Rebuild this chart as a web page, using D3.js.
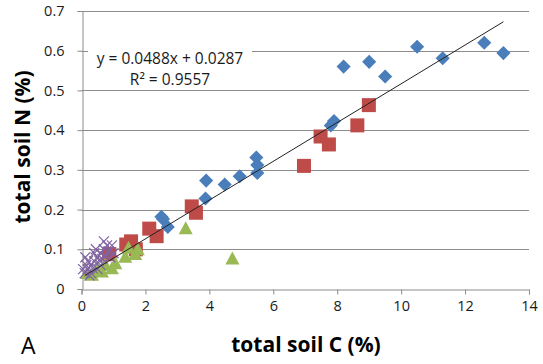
<!DOCTYPE html>
<html>
<head>
<meta charset="utf-8">
<script src="https://cdn.jsdelivr.net/npm/d3@7"></script>
<style>
  body { margin: 0; background: #fff; }
  text { font-family: "Open Sans", "Liberation Sans", sans-serif; }
</style>
</head>
<body>
<div id="app"></div>
<script>
// series data (total soil C %, total soil N %)
const blueC = [10.5, 12.6, 13.2, 11.3, 9.0, 8.2, 9.5, 7.8, 7.9, 5.47, 5.5, 5.5, 4.95, 4.48, 3.9, 3.88, 2.5, 2.7, 2.55];
const blueN = [0.61, 0.62, 0.594, 0.581, 0.572, 0.56, 0.535, 0.412, 0.423, 0.331, 0.312, 0.292, 0.284, 0.263, 0.273, 0.228, 0.182, 0.156, 0.176];

const redC = [6.96, 7.48, 7.74, 8.63, 8.99, 3.45, 3.58, 2.12, 2.35, 1.4, 1.7, 0.87, 1.55];
const redN = [0.31, 0.384, 0.364, 0.412, 0.463, 0.208, 0.192, 0.152, 0.133, 0.112, 0.1, 0.088, 0.12];

const greenC = [3.26, 4.72, 1.47, 1.76, 1.68, 1.37, 0.95, 0.64, 0.33, 0.17, 0.74, 1.06, 0.5];
const greenN = [0.153, 0.077, 0.104, 0.1, 0.088, 0.081, 0.052, 0.044, 0.036, 0.04, 0.061, 0.065, 0.05];

const purpleC = [0.1, 0.2, 0.3, 0.4, 0.5, 0.6, 0.7, 0.8, 0.3, 0.5, 0.6, 0.2, 0.4, 0.9, 1.0, 0.15, 0.35, 0.55, 0.75, 0.25, 0.45, 0.65, 0.85, 0.05, 0.12, 0.95, 0.7];
const purpleN = [0.04, 0.05, 0.06, 0.07, 0.08, 0.09, 0.1, 0.11, 0.04, 0.05, 0.06, 0.07, 0.09, 0.08, 0.09, 0.06, 0.052, 0.072, 0.082, 0.034, 0.1, 0.076, 0.095, 0.05, 0.08, 0.11, 0.12];

const xTicks = [0, 2, 4, 6, 8, 10, 12, 14];
const yTicks = [0, 0.1, 0.2, 0.3, 0.4, 0.5, 0.6, 0.7];
const slope = 0.0488;
const intercept = 0.0287;
const trendRange = [0.1, 13.2];
const eqLines = ['y = 0.0488x + 0.0287', 'R² = 0.9557'];

const width = 543;
const height = 364;
const margin = { top: 11, right: 14, bottom: 75, left: 81.5 };
const gridStroke = '#8c8c8c';

const svg = d3.select('#app')
  .append('svg')
  .attr('width', width)
  .attr('height', height);

const xScale = d3.scaleLinear()
  .domain([0, 14])
  .range([margin.left, width - margin.right]);
const yScale = d3.scaleLinear()
  .domain([0, 0.7])
  .range([height - margin.bottom, margin.top]);

// horizontal gridlines
svg.append('g')
  .selectAll('line')
  .data(yTicks.filter(d => d > 0))
  .enter()
  .append('line')
  .attr('x1', xScale(0))
  .attr('x2', xScale(14))
  .attr('y1', d => Math.round(yScale(d)) + 0.5)
  .attr('y2', d => Math.round(yScale(d)) + 0.5)
  .attr('stroke', gridStroke)
  .attr('stroke-width', 1);

// axes
const xAxis = svg.append('g')
  .attr('transform', `translate(0,${Math.round(yScale(0)) + 0.5})`)
  .call(d3.axisBottom(xScale).tickValues(xTicks).tickSize(5).tickPadding(6).tickFormat(d3.format('d')));
const yAxis = svg.append('g')
  .attr('transform', `translate(${Math.round(xScale(0)) + 0.5},0)`)
  .call(d3.axisLeft(yScale).tickValues(yTicks).tickSize(5).tickPadding(13)
    .tickFormat(d => (d === 0 ? '0' : d3.format('.1f')(d))));

[xAxis, yAxis].forEach((ax) => {
  ax.select('.domain').attr('stroke', gridStroke);
  ax.selectAll('.tick line').attr('stroke', gridStroke);
  ax.selectAll('.tick text')
    .attr('fill', '#1a1a1a')
    .style('font-size', '14.5px')
    .style('font-family', '"Open Sans", sans-serif');
});

// series
const blueData = blueC.map((c, i) => ({ c, n: blueN[i] }));
const redData = redC.map((c, i) => ({ c, n: redN[i] }));
const greenData = greenC.map((c, i) => ({ c, n: greenN[i] }));
const purpleData = purpleC.map((c, i) => ({ c, n: purpleN[i] }));

svg.append('g')
  .selectAll('path')
  .data(blueData)
  .enter()
  .append('path')
  .attr('d', d3.symbol(d3.symbolSquare, 100)())
  .attr('transform', d => `translate(${xScale(d.c)},${yScale(d.n)}) rotate(45)`)
  .attr('fill', '#4a7ebb');

svg.append('g')
  .selectAll('rect')
  .data(redData)
  .enter()
  .append('rect')
  .attr('x', d => xScale(d.c) - 7)
  .attr('y', d => yScale(d.n) - 7)
  .attr('width', 14)
  .attr('height', 14)
  .attr('fill', '#be4b48');

svg.append('g')
  .selectAll('path')
  .data(greenData)
  .enter()
  .append('path')
  .attr('d', 'M0,-7L7,6L-7,6Z')
  .attr('transform', d => `translate(${xScale(d.c)},${yScale(d.n)})`)
  .attr('fill', '#98b954');

svg.append('g')
  .selectAll('path')
  .data(purpleData)
  .enter()
  .append('path')
  .attr('d', 'M-5,-5L5,5M-5,5L5,-5')
  .attr('transform', d => `translate(${xScale(d.c)},${yScale(d.n)})`)
  .attr('stroke', '#8064a2')
  .attr('stroke-width', 1.2)
  .attr('fill', 'none');

// linear trendline
svg.append('line')
  .attr('x1', xScale(trendRange[0]))
  .attr('y1', yScale(slope * trendRange[0] + intercept))
  .attr('x2', xScale(trendRange[1]))
  .attr('y2', yScale(slope * trendRange[1] + intercept))
  .attr('stroke', '#222')
  .attr('stroke-width', 1);

// equation label (white box behind it like Excel)
const eq = svg.append('g');
eq.append('rect')
  .attr('x', 88)
  .attr('y', 50)
  .attr('width', 164)
  .attr('height', 40)
  .attr('fill', '#fff');
eq.selectAll('text')
  .data(eqLines)
  .enter()
  .append('text')
  .attr('x', 170)
  .attr('y', (d, i) => 64 + i * 21)
  .attr('text-anchor', 'middle')
  .attr('fill', '#1a1a1a')
  .style('font-size', '15.5px')
  .text(d => d);

// axis titles
svg.append('text')
  .attr('x', 306)
  .attr('y', 352)
  .attr('text-anchor', 'middle')
  .style('font-size', '21px')
  .style('font-weight', 'bold')
  .text('total soil C (%)');

svg.append('text')
  .attr('transform', 'translate(30,147) rotate(-90)')
  .attr('text-anchor', 'middle')
  .style('font-size', '21px')
  .style('font-weight', 'bold')
  .text('total soil N (%)');

svg.append('text')
  .attr('x', 21)
  .attr('y', 354)
  .style('font-size', '23px')
  .text('A');
</script>
</body>
</html>
